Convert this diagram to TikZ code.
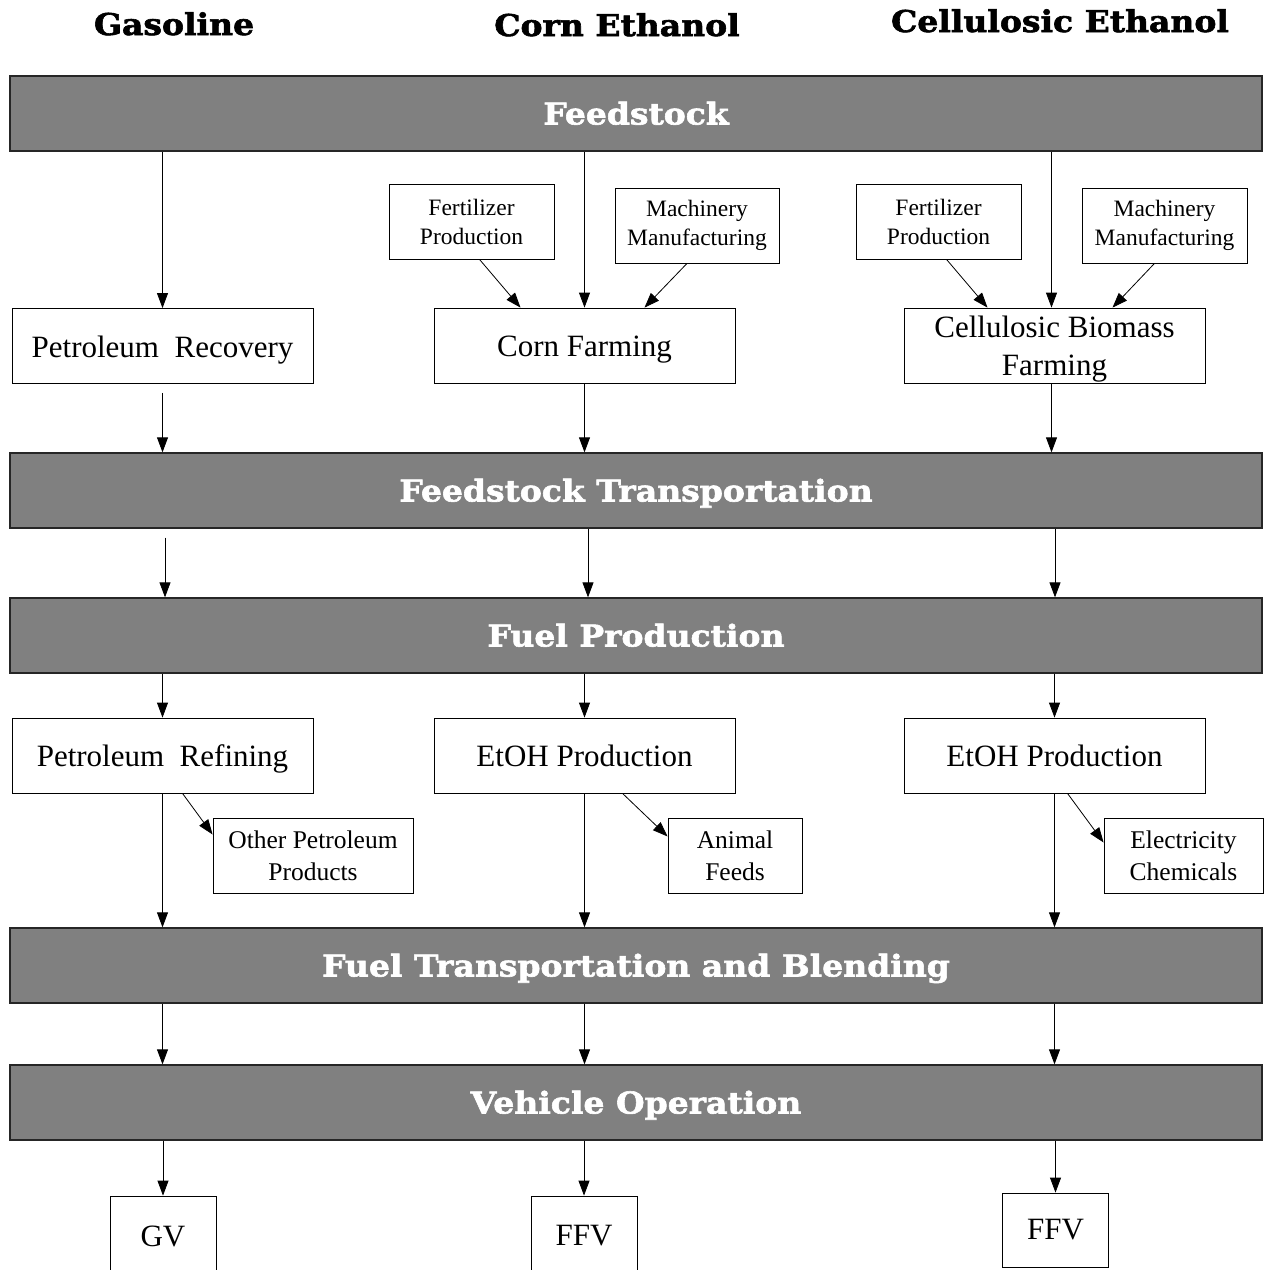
\documentclass[tikz,border=0pt]{standalone}
\usepackage{fontspec}
\setmainfont{Liberation Serif}
\newfontfamily\hdrfont{DejaVu Serif}[FakeStretch=1.1, BoldFeatures={FakeBold=2}]
\usetikzlibrary{arrows.meta}
\definecolor{bargray}{HTML}{808080}
\begin{document}
\begin{tikzpicture}[x=1pt,y=-1pt,
  hdr/.style={anchor=base, inner sep=0pt, font=\hdrfont\bfseries\fontsize{30}{32}\selectfont},
  bar/.style={draw=black!85, line width=1.3pt, fill=bargray, minimum width=1252pt, minimum height=75pt,
    inner sep=0pt, text height=22pt, text depth=0pt, text=white,
    font=\hdrfont\bfseries\fontsize{30}{32}\selectfont},
  bigbox/.style={draw, line width=0.8pt, minimum width=301pt, minimum height=75pt, inner sep=0pt,
    align=center, text height=22pt, text depth=0pt, font=\fontsize{31}{38}\selectfont},
  smallbox/.style={draw, line width=0.8pt, minimum height=75pt, inner sep=0pt,
    align=center, font=\fontsize{23.5}{29}\selectfont},
  outbox/.style={draw, line width=0.8pt, minimum height=75pt, inner sep=0pt,
    align=center, font=\fontsize{25.5}{32}\selectfont},
  vehbox/.style={draw, line width=0.8pt, minimum width=106pt, inner sep=0pt,
    font=\fontsize{31}{38}\selectfont},
  arr/.style={line width=0.8pt, -{Triangle[length=15pt,width=11pt]}}
]
\useasboundingbox (0,0) rectangle (1266,1270);

% headers
\node[hdr] (hgas) at (174,35) {Gasoline};
\node[hdr] (hcorn) at (617,36) {Corn Ethanol};
\node[hdr] (hcell) at (1060,32) {Cellulosic Ethanol};

% bars
\node[bar] (feed) at (636,113.5) {Feedstock};
\node[bar] (ftrans) at (636,490.5) {Feedstock Transportation};
\node[bar] (fprod) at (636,635.5) {Fuel Production};
\node[bar] (fblend) at (636,965.5) {Fuel Transportation and Blending};
\node[bar] (vop) at (636,1102.5) {Vehicle Operation};

% feedstock stage boxes
\node[bigbox] (rec) at (162.5,346) {Petroleum~ Recovery};
\node[bigbox] (corn) at (584.5,345.5) {Corn Farming};
\node[bigbox, text height=60pt, text depth=0pt] (cell) at (1054.5,345.5) {Cellulosic Biomass\\Farming};

\node[smallbox, minimum width=165pt] (fert1) at (471.5,221.5) {Fertilizer\\Production};
\node[smallbox, minimum width=164pt] (mach1) at (697,225.5) {Machinery\\Manufacturing};
\node[smallbox, minimum width=165pt] (fert2) at (938.5,221.5) {Fertilizer\\Production};
\node[smallbox, minimum width=165pt] (mach2) at (1164.5,225.5) {Machinery\\Manufacturing};

% production boxes
\node[bigbox] (ref) at (162.5,755.5) {Petroleum~ Refining};
\node[bigbox] (etoh1) at (584.5,755.5) {EtOH Production};
\node[bigbox] (etoh2) at (1054.5,755.5) {EtOH Production};

\node[outbox, minimum width=200pt] (oth) at (313,855.5) {Other Petroleum\\Products};
\node[outbox, minimum width=134pt] (afeed) at (735,855.5) {Animal\\Feeds};
\node[outbox, minimum width=159pt] (elec) at (1183.5,855.5) {Electricity\\Chemicals};

% vehicles
\node[vehbox, minimum height=80pt] (gv) at (163,1236) {GV};
\node[vehbox, minimum height=80pt] (ffv1) at (584,1236) {FFV};
\node[vehbox, minimum height=74pt] (ffv2) at (1055.5,1230) {FFV};

% arrows: feedstock
\draw[arr] (feed.south -| rec.north) -- (rec.north);
\draw[arr] (feed.south -| corn.north) -- (corn.north);
\draw[arr] ([xshift=-3pt]feed.south -| cell.north) -- ([xshift=-3pt]cell.north);
\draw[arr] ([xshift=8pt]fert1.south) -- ([xshift=-64pt]corn.north);
\draw[arr] ([xshift=-10pt]mach1.south) -- ([xshift=60pt]corn.north);
\draw[arr] ([xshift=8pt]fert2.south) -- ([xshift=-67pt]cell.north);
\draw[arr] ([xshift=-10pt]mach2.south) -- ([xshift=58pt]cell.north);

% to feedstock transportation
\draw[arr] ([yshift=-9pt]rec.south) -- (ftrans.north -| rec.south);
\draw[arr] (corn.south) -- (ftrans.north -| corn.south);
\draw[arr] ([xshift=-3pt]cell.south) -- ([xshift=-3pt]ftrans.north -| cell.south);

% to fuel production
\draw[arr] ([yshift=-9pt]ftrans.south -| 165,0) -- (fprod.north -| 165,0);
\draw[arr] (ftrans.south -| 588,0) -- (fprod.north -| 588,0);
\draw[arr] (ftrans.south -| 1055,0) -- (fprod.north -| 1055,0);

% to production boxes
\draw[arr] (fprod.south -| ref.north) -- (ref.north);
\draw[arr] (fprod.south -| etoh1.north) -- (etoh1.north);
\draw[arr] (fprod.south -| etoh2.north) -- (etoh2.north);

% co-products
\draw[arr] ([xshift=20pt]ref.south) -- ([yshift=21pt]oth.west);
\draw[arr] ([xshift=38pt]etoh1.south) -- ([yshift=19pt]afeed.west);
\draw[arr] ([xshift=13pt]etoh2.south) -- ([yshift=13pt]elec.west);

% to blending
\draw[arr] (ref.south) -- (fblend.north -| ref.south);
\draw[arr] (etoh1.south) -- (fblend.north -| etoh1.south);
\draw[arr] (etoh2.south) -- (fblend.north -| etoh2.south);

% to vehicle operation
\draw[arr] (fblend.south -| ref.south) -- (vop.north -| ref.south);
\draw[arr] (fblend.south -| etoh1.south) -- (vop.north -| etoh1.south);
\draw[arr] (fblend.south -| etoh2.south) -- (vop.north -| etoh2.south);

% to vehicles
\draw[arr] (vop.south -| gv.north) -- (gv.north);
\draw[arr] (vop.south -| ffv1.north) -- (ffv1.north);
\draw[arr] (vop.south -| ffv2.north) -- (ffv2.north);
\end{tikzpicture}
\end{document}
